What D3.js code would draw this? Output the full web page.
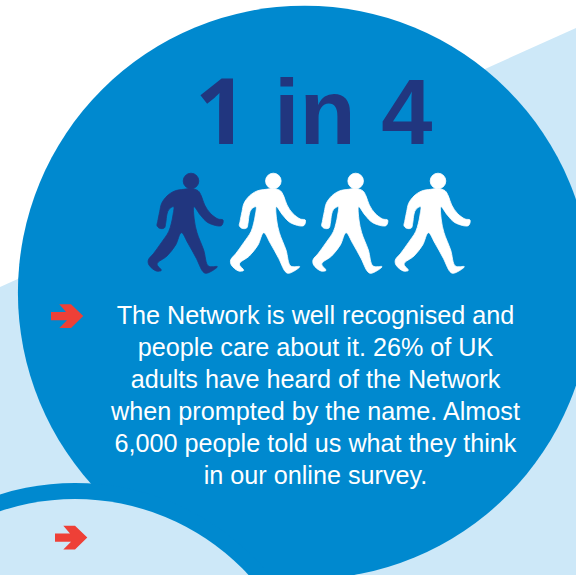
<!DOCTYPE html>
<html>
<head>
<meta charset="utf-8">
<script src="https://cdn.jsdelivr.net/npm/d3@7"></script>
<style>
  html, body { margin: 0; padding: 0; background: #fff; }
  svg { display: block; }
  text { font-family: "Liberation Sans", Arial, sans-serif; }
</style>
</head>
<body>
<script>
// data
var headline = ["1", "in 4"];
var people = ["highlighted", "other", "other", "other"];
var bodyLines = [
  "The Network is well recognised and",
  "people care about it. 26% of UK",
  "adults have heard of the Network",
  "when prompted by the name. Almost",
  "6,000 people told us what they think",
  "in our online survey."
];

//setup base env
var width = 576;
var height = 575;
var navy = "#21367f";
var blue = "#0089cf";
var pale = "#cde8f8";
var red = "#ee4037";

var svg = d3.select("body").append("svg")
  .attr("width", width)
  .attr("height", height);

// pale backdrop, cut off by a diagonal at the top
svg.append("path")
  .attr("d", "M0,287L576,28L576,575L0,575Z")
  .attr("fill", pale);

// main disc
svg.append("circle")
  .attr("cx", 304.7).attr("cy", 292.5).attr("r", 286.8)
  .attr("fill", blue);

// lower disc with its blue rim
svg.append("circle")
  .attr("cx", 75).attr("cy", 735).attr("r", 252)
  .attr("fill", blue);
svg.append("circle")
  .attr("cx", 75).attr("cy", 735).attr("r", 236)
  .attr("fill", pale);

// headline, the 1 comes from Open Sans because Liberation's has a foot
var title = svg.append("text")
  .attr("y", 144)
  .attr("font-size", 92)
  .attr("font-weight", "bold")
  .attr("fill", navy);
title.append("tspan")
  .attr("x", 195)
  .style("font-family", "Open Sans")
  .text(headline[0]);
title.append("tspan")
  .attr("x", 274)
  .text(headline[1]);

// walking figures
var xScale = d3.scalePoint()
  .domain(d3.range(people.length))
  .range([191, 438]);

var colour = d3.scaleOrdinal()
  .domain(["highlighted", "other"])
  .range([navy, "#fff"]);

// outline of one figure, traced at 3x with the head centre at 154,63
var outline = [
  [132, 88], [105, 93], [82, 108], [66, 130], [60, 155], [54, 185], [52, 197], [60, 205],
  [74, 204], [78, 190], [82, 162], [88, 148], [102, 140], [100, 165], [95, 190], [87, 215],
  [65, 248], [42, 280], [26, 300], [28, 315], [50, 333], [65, 331], [52, 312], [82, 288],
  [108, 255], [125, 218], [145, 250], [170, 295], [190, 335], [200, 340], [233, 320], [206, 318],
  [192, 270], [172, 218], [164, 180], [163, 140], [182, 165], [205, 188], [245, 197], [250, 180],
  [235, 177], [212, 160], [195, 135], [185, 108], [175, 92], [155, 86]
];
var bodyPath = d3.line()
  .x(function(d) { return (d[0] - 154) / 3; })
  .y(function(d) { return (d[1] - 63) / 3; })
  .curve(d3.curveCatmullRomClosed.alpha(0.5))(outline);

var figures = svg.selectAll(".figure")
  .data(people)
  .enter()
  .append("g")
  .attr("class", "figure")
  .attr("transform", function(d, i) {
    return "translate(" + xScale(i) + ",181)";
  })
  .attr("fill", function(d) {
    return colour(d);
  })
  .attr("stroke", function(d) {
    return colour(d);
  })
  .attr("stroke-width", 0.8)
  .attr("stroke-linejoin", "round");
figures.append("circle").attr("r", 7.8);
figures.append("path").attr("d", bodyPath);

// body copy
svg.selectAll(".copy")
  .data(bodyLines)
  .enter()
  .append("text")
  .attr("class", "copy")
  .attr("x", 315.5)
  .attr("y", function(d, i) {
    return 324 + i * 32;
  })
  .attr("text-anchor", "middle")
  .attr("font-size", 25.2)
  .attr("fill", "#fff")
  .text(function(d) {
    return d;
  });

// red arrows
var arrowShape = "M0,-4L15,-4L8.3,-11.7L20,-11.7L32.3,0L20,12L8.3,12L16,4.3L0,4.3Z";
svg.selectAll(".arrow")
  .data([[51, 316], [55, 537.5]])
  .enter()
  .append("path")
  .attr("class", "arrow")
  .attr("transform", function(d) {
    return "translate(" + d[0] + "," + d[1] + ")";
  })
  .attr("d", arrowShape)
  .attr("fill", red);
</script>
</body>
</html>
